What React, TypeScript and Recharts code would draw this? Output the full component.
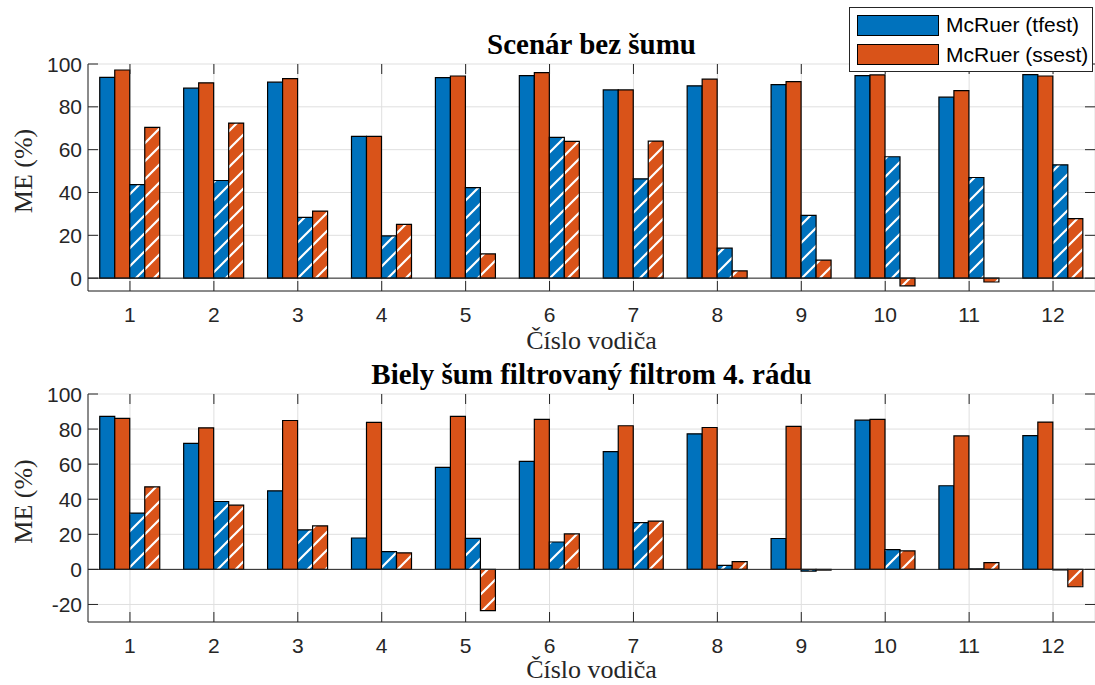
import React from 'react';
import { BarChart, Bar, XAxis, YAxis, CartesianGrid, ReferenceLine } from 'recharts';

const drivers = ['1', '2', '3', '4', '5', '6', '7', '8', '9', '10', '11', '12'];

// Scenár bez šumu
const cleanTfest = [93.8, 88.7, 91.5, 66.2, 93.6, 94.6, 87.9, 89.8, 90.4, 94.6, 84.5, 95.0];
const cleanSsest = [97.2, 91.2, 93.2, 66.2, 94.4, 96.0, 87.9, 92.9, 91.8, 94.9, 87.6, 94.4];
const cleanTfestHatched = [43.7, 45.6, 28.4, 19.7, 42.3, 65.7, 46.4, 14.0, 29.3, 56.7, 47.0, 52.9];
const cleanSsestHatched = [70.4, 72.4, 31.3, 25.1, 11.3, 63.9, 64.0, 3.4, 8.4, -3.6, -1.8, 27.8];

// Biely šum filtrovaný filtrom 4. rádu
const noisyTfest = [87.2, 71.8, 44.8, 17.9, 58.2, 61.6, 67.2, 77.3, 17.6, 85.1, 47.7, 76.3];
const noisySsest = [86.1, 80.7, 84.9, 83.8, 87.2, 85.5, 81.9, 80.9, 81.5, 85.5, 76.1, 84.0];
const noisyTfestHatched = [32.1, 38.7, 22.5, 10.1, 17.7, 15.6, 26.7, 2.3, -1.0, 11.3, 0.3, -0.3];
const noisySsestHatched = [47.1, 36.6, 24.8, 9.4, -23.5, 20.2, 27.5, 4.4, -0.4, 10.5, 3.8, -9.9];

const topTicks = [0, 20, 40, 60, 80, 100];
const bottomTicks = [-20, 0, 20, 40, 60, 80, 100];
const topDomain = [-6, 100];
const bottomDomain = [-30, 100];

const legendLabels = ['McRuer (tfest)', 'McRuer (ssest)'];
const titles = ['Scenár bez šumu', 'Biely šum filtrovaný filtrom 4. rádu'];
const xLabel = 'Číslo vodiča';
const yLabel = 'ME (%)';

const W = 1095;
const LEFT = 88;
const PLOT_W = W - LEFT;
const BLUE = '#0072BD';
const ORANGE = '#D95319';
const AX = '#262626';
const SANS = '"Liberation Sans", Arial, Helvetica, sans-serif';
const SERIF = '"Liberation Serif", "Times New Roman", serif';

const buildRows = (a: number[], b: number[], c: number[], d: number[]) =>
  drivers.map((driver, i) => ({ driver, tfest: a[i], ssest: b[i], tfestH: c[i], ssestH: d[i] }));

const cleanRows = buildRows(cleanTfest, cleanSsest, cleanTfestHatched, cleanSsestHatched);
const noisyRows = buildRows(noisyTfest, noisySsest, noisyTfestHatched, noisySsestHatched);

const XTick = (props: any) => {
  const { x, y, payload, plotH } = props;
  return (
    <g>
      <line x1={x} x2={x} y1={y} y2={y - 10} stroke={AX} strokeWidth={1} />
      <line x1={x} x2={x} y1={y - plotH} y2={y - plotH + 10} stroke={AX} strokeWidth={1} />
      <text x={x} y={y + 30.5} textAnchor="middle" fontFamily={SANS} fontSize={21} fill={AX}>
        {payload.value}
      </text>
    </g>
  );
};

const YTick = (props: any) => {
  const { x, y, payload } = props;
  return (
    <g>
      <line x1={x} x2={x + 10} y1={y} y2={y} stroke={AX} strokeWidth={1} />
      <line x1={x + PLOT_W - 10} x2={x + PLOT_W} y1={y} y2={y} stroke={AX} strokeWidth={1} />
      <text x={x - 6} y={y} dy="0.36em" textAnchor="end" fontFamily={SANS} fontSize={21} fill={AX}>
        {payload.value}
      </text>
    </g>
  );
};

const Hatch = ({ id, color }: { id: string; color: string }) => (
  <pattern id={id} patternUnits="userSpaceOnUse" width={18} height={18}>
    <rect x={0} y={0} width={18} height={18} fill={color} />
    <path d="M0,18 L18,0 M-3,3 L3,-3 M15,21 L21,15" stroke="#ffffff" strokeWidth={2.2} />
  </pattern>
);

type PanelProps = {
  id: string;
  top: number;
  height: number;
  marginTop: number;
  plotH: number;
  data: any[];
  domain: number[];
  ticks: number[];
};

const Panel = ({ id, top, height, marginTop, plotH, data, domain, ticks }: PanelProps) => {
  const xAxisH = height - marginTop - plotH;
  return (
    <div style={{ position: 'absolute', left: 0, top, width: W, height }}>
      <BarChart
        width={W}
        height={height}
        data={data}
        margin={{ top: marginTop, right: 0, bottom: 0, left: 0 }}
        barCategoryGap="14%"
        barGap={0}
      >
        <defs>
          <Hatch id={`hb-${id}`} color={BLUE} />
          <Hatch id={`ho-${id}`} color={ORANGE} />
        </defs>
        <CartesianGrid stroke="#dfdfdf" strokeWidth={1} />
        <XAxis
          dataKey="driver"
          height={xAxisH}
          interval={0}
          tickSize={0}
          tickMargin={0}
          tickLine={false}
          axisLine={{ stroke: AX, strokeWidth: 1 }}
          tick={<XTick plotH={plotH} />}
        />
        <XAxis
          xAxisId="top"
          orientation="top"
          dataKey="driver"
          height={0}
          tick={false}
          tickLine={false}
          axisLine={{ stroke: AX, strokeWidth: 1 }}
        />
        <YAxis
          type="number"
          width={LEFT}
          domain={domain}
          ticks={ticks}
          allowDataOverflow
          interval={0}
          tickSize={0}
          tickMargin={0}
          tickLine={false}
          axisLine={{ stroke: AX, strokeWidth: 1 }}
          tick={<YTick />}
        />
        <YAxis
          yAxisId="right"
          orientation="right"
          type="number"
          width={0}
          domain={domain}
          ticks={ticks}
          allowDataOverflow
          tick={false}
          tickLine={false}
          axisLine={{ stroke: AX, strokeWidth: 1 }}
        />
        <Bar dataKey="tfest" fill={BLUE} stroke="#000" strokeWidth={1.2} isAnimationActive={false} />
        <Bar dataKey="ssest" fill={ORANGE} stroke="#000" strokeWidth={1.2} isAnimationActive={false} />
        <Bar dataKey="tfestH" fill={`url(#hb-${id})`} stroke="#000" strokeWidth={1.2} isAnimationActive={false} />
        <Bar dataKey="ssestH" fill={`url(#ho-${id})`} stroke="#000" strokeWidth={1.2} isAnimationActive={false} />
        <ReferenceLine y={0} stroke={AX} strokeWidth={1} />
      </BarChart>
    </div>
  );
};

const P1 = { top: 0, height: 355, marginTop: 64, plotH: 227 };
const P2 = { top: 355, height: 330, marginTop: 39, plotH: 228 };

const Overlay = () => {
  const cx = LEFT + PLOT_W / 2;
  const p1Top = P1.top + P1.marginTop;
  const p1Bottom = p1Top + P1.plotH;
  const p2Top = P2.top + P2.marginTop;
  const p2Bottom = p2Top + P2.plotH;
  return (
    <svg
      width={W}
      height={685}
      style={{ position: 'absolute', left: 0, top: 0, pointerEvents: 'none' }}
    >
      <text x={cx} y={p1Top - 10.5} textAnchor="middle" fontFamily={SERIF} fontWeight="bold" fontSize={29} fill="#000">
        {titles[0]}
      </text>
      <text x={cx} y={p2Top - 10.5} textAnchor="middle" fontFamily={SERIF} fontWeight="bold" fontSize={29} fill="#000">
        {titles[1]}
      </text>
      <text x={cx} y={p1Bottom + 58} textAnchor="middle" fontFamily={SERIF} fontSize={26} fill={AX}>
        {xLabel}
      </text>
      <text x={cx} y={p2Bottom + 56} textAnchor="middle" fontFamily={SERIF} fontSize={26} fill={AX}>
        {xLabel}
      </text>
      <text
        x={32}
        y={(p1Top + p1Bottom) / 2 - 6.5}
        transform={`rotate(-90 32 ${(p1Top + p1Bottom) / 2 - 6.5})`}
        textAnchor="middle"
        fontFamily={SERIF}
        fontSize={26}
        fill={AX}
      >
        {yLabel}
      </text>
      <text
        x={32}
        y={(p2Top + p2Bottom) / 2 - 6.5}
        transform={`rotate(-90 32 ${(p2Top + p2Bottom) / 2 - 6.5})`}
        textAnchor="middle"
        fontFamily={SERIF}
        fontSize={26}
        fill={AX}
      >
        {yLabel}
      </text>
    </svg>
  );
};

const LegendBox = () => {
  const colors = [BLUE, ORANGE];
  return (
    <div
      style={{
        position: 'absolute',
        left: 849,
        top: 7,
        width: 244,
        height: 65,
        boxSizing: 'border-box',
        border: `1px solid ${AX}`,
        background: '#fff',
      }}
    >
      {legendLabels.map((label, i) => (
        <div
          key={label}
          style={{
            position: 'absolute',
            left: 7,
            top: 6 + i * 29.5,
            height: 22,
            display: 'flex',
            alignItems: 'center',
            whiteSpace: 'nowrap',
          }}
        >
          <div
            style={{
              width: 82,
              height: 21,
              boxSizing: 'border-box',
              background: colors[i],
              border: '1.2px solid #000',
            }}
          />
          <span style={{ marginLeft: 7, fontFamily: SANS, fontSize: 21, color: '#000', lineHeight: '22px' }}>
            {label}
          </span>
        </div>
      ))}
    </div>
  );
};

export default function App() {
  return (
    <div style={{ position: 'absolute', left: 0, top: 0, width: W, height: 685, background: '#fff' }}>
      <Panel id="clean" {...P1} data={cleanRows} domain={topDomain} ticks={topTicks} />
      <Panel id="noisy" {...P2} data={noisyRows} domain={bottomDomain} ticks={bottomTicks} />
      <Overlay />
      <LegendBox />
    </div>
  );
}
